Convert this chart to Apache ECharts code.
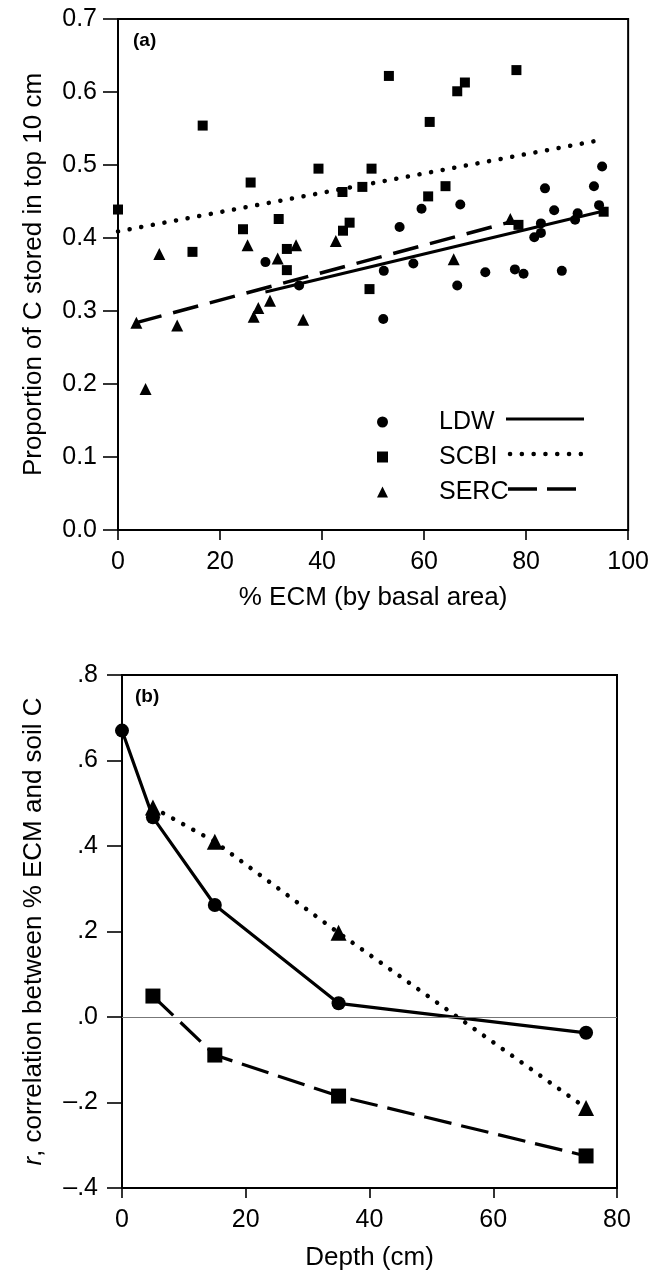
<!DOCTYPE html>
<html>
<head>
<meta charset="utf-8">
<script src="https://cdn.jsdelivr.net/npm/echarts@6/dist/echarts.min.js"></script>
<style>
html,body{margin:0;padding:0;background:#fff;}
#chart{width:652px;height:1276px;}
</style>
</head>
<body>
<div id="chart"></div>
<script>
// ---------- Panel (a) data: % ECM vs proportion of C in top 10 cm ----------
const ldwX  = [28.9, 35.5, 52.1, 52.0, 55.2, 57.9, 59.5, 66.5, 67.1, 72.0, 77.8, 79.5, 81.6, 82.9, 82.9, 83.7, 85.5, 87.0, 89.6, 90.1, 93.3, 94.3, 94.9];
const ldwY  = [0.367, 0.335, 0.355, 0.289, 0.415, 0.365, 0.440, 0.335, 0.446, 0.353, 0.357, 0.351, 0.401, 0.407, 0.420, 0.468, 0.438, 0.355, 0.425, 0.434, 0.471, 0.445, 0.498];
const scbiX = [0, 14.6, 16.6, 24.5, 26.0, 31.5, 33.1, 33.1, 39.3, 44.1, 44.0, 45.4, 47.9, 49.3, 49.7, 53.1, 60.8, 61.1, 64.2, 66.5, 68.0, 78.1, 78.5, 95.2];
const scbiY = [0.439, 0.381, 0.554, 0.412, 0.476, 0.426, 0.385, 0.356, 0.495, 0.410, 0.463, 0.421, 0.470, 0.330, 0.495, 0.622, 0.457, 0.559, 0.471, 0.601, 0.613, 0.630, 0.418, 0.436];
const sercX = [3.6, 5.4, 8.1, 11.6, 25.4, 26.6, 27.5, 29.8, 31.3, 34.9, 36.3, 42.7, 65.8, 76.9];
const sercY = [0.284, 0.193, 0.378, 0.280, 0.390, 0.292, 0.304, 0.314, 0.372, 0.390, 0.288, 0.396, 0.371, 0.426];
// regression line end points
const ldwFitX  = [28.9, 95.2];
const ldwFitY  = [0.326, 0.437];
const scbiFitX = [0, 95.2];
const scbiFitY = [0.409, 0.535];
const sercFitX = [3.6, 76.9];
const sercFitY = [0.284, 0.422];
const aXTicks = [0, 20, 40, 60, 80, 100];
const aYTicks = [0.0, 0.1, 0.2, 0.3, 0.4, 0.5, 0.6, 0.7];

// ---------- Panel (b) data: correlation vs depth ----------
const bLdwDepth  = [0, 5, 15, 35, 75];
const bLdwR      = [0.67, 0.467, 0.262, 0.032, -0.037];
const bTriDepth  = [5, 15, 35, 75];
const bTriR      = [0.49, 0.41, 0.197, -0.213];
const bSqDepth   = [5, 15, 35, 75];
const bSqR       = [0.049, -0.089, -0.185, -0.325];
const bXTicks = [0, 20, 40, 60, 80];
const bYTicks = [-0.4, -0.2, 0, 0.2, 0.4, 0.6, 0.8];

const zip = (xs, ys) => xs.map((x, i) => [x, ys[i]]);
const FONT = 'Liberation Sans, Arial, Helvetica, sans-serif';
const FS = 25;     // tick labels, legend
const FT = 26;     // axis titles
const BLACK = '#000';

const axisCommon = (tickLen) => ({
  axisLine: {show: true, onZero: false, lineStyle: {color: BLACK, width: 2}},
  axisTick: {show: true, inside: false, length: tickLen, lineStyle: {color: BLACK, width: 1.6}},
  splitLine: {show: false},
  nameTextStyle: {fontFamily: FONT, fontSize: FT, color: BLACK},
});

const chart = echarts.init(document.getElementById('chart'), null, {renderer: 'canvas'});

const option = {
  backgroundColor: '#fff',
  animation: false,
  title: [
    {text: '(a)', left: 128, top: 26, textStyle: {fontFamily: FONT, fontSize: 19, fontWeight: 'bold', color: BLACK}},
    {text: '(b)', left: 130, top: 682, textStyle: {fontFamily: FONT, fontSize: 19, fontWeight: 'bold', color: BLACK}}
  ],
  grid: [
    {left: 118, top: 19, width: 512, height: 511, show: true, borderColor: BLACK, borderWidth: 2, containLabel: false},
    {left: 122, top: 675, width: 495, height: 513, show: true, borderColor: BLACK, borderWidth: 2, containLabel: false}
  ],
  xAxis: [
    Object.assign(axisCommon(10), {
      gridIndex: 0, type: 'value', min: aXTicks[0], max: aXTicks[aXTicks.length - 1], interval: 20,
      axisLabel: {fontFamily: FONT, fontSize: FS, color: BLACK, margin: 20},
      name: '% ECM (by basal area)', nameLocation: 'middle', nameGap: 55
    }),
    Object.assign(axisCommon(10), {
      gridIndex: 1, type: 'value', min: bXTicks[0], max: bXTicks[bXTicks.length - 1], interval: 20,
      axisLabel: {fontFamily: FONT, fontSize: FS, color: BLACK, margin: 20},
      name: 'Depth (cm)', nameLocation: 'middle', nameGap: 57
    })
  ],
  yAxis: [
    Object.assign(axisCommon(15), {
      gridIndex: 0, type: 'value', min: aYTicks[0], max: aYTicks[aYTicks.length - 1], interval: 0.1,
      axisLabel: {fontFamily: FONT, fontSize: FS, color: BLACK, margin: 21, formatter: v => v.toFixed(1)},
      name: 'Proportion of C stored in top 10 cm', nameLocation: 'middle', nameGap: 71
    }),
    Object.assign(axisCommon(15), {
      gridIndex: 1, type: 'value', min: bYTicks[0], max: bYTicks[bYTicks.length - 1], interval: 0.2,
      axisLabel: {fontFamily: FONT, fontSize: FS, color: BLACK, margin: 24,
        formatter: v => (v < -1e-9 ? '\u2013' : '') + '.' + Math.round(Math.abs(v) * 10)},
      name: '{i|r}, correlation between % ECM and soil C', nameLocation: 'middle', nameGap: 75,
      nameTextStyle: {fontFamily: FONT, fontSize: FT, color: BLACK, rich: {i: {fontFamily: FONT, fontSize: FT, fontStyle: 'italic', color: BLACK}}}
    })
  ],
  legend: {
    data: [{name: 'LDW', icon: 'circle'}, {name: 'SCBI', icon: 'rect'}, {name: 'SERC', icon: 'triangle'}],
    orient: 'vertical', left: 372, top: 403, itemWidth: 11, itemHeight: 11, itemGap: 7,
    selectedMode: false,
    textStyle: {fontFamily: FONT, fontSize: FS, color: BLACK, lineHeight: 28, padding: [0, 0, 0, 46]}
  },
  graphic: [
    {type: 'line', shape: {x1: 506, y1: 419, x2: 584, y2: 419}, style: {stroke: BLACK, lineWidth: 3}},
    {type: 'line', shape: {x1: 510, y1: 454, x2: 584, y2: 454}, style: {stroke: BLACK, lineWidth: 4.5, lineCap: 'round', lineDash: [0.1, 11.7]}},
    {type: 'line', shape: {x1: 508, y1: 489, x2: 576, y2: 489}, style: {stroke: BLACK, lineWidth: 3.5, lineDash: [29, 10]}}
  ],
  series: [
    // panel (a) regression lines
    {name: 'LDW fit', type: 'line', xAxisIndex: 0, yAxisIndex: 0, data: zip(ldwFitX, ldwFitY), showSymbol: false, symbol: 'none',
      lineStyle: {color: BLACK, width: 3}, z: 2},
    {name: 'SCBI fit', type: 'line', xAxisIndex: 0, yAxisIndex: 0, data: zip(scbiFitX, scbiFitY), showSymbol: false, symbol: 'none',
      lineStyle: {color: BLACK, width: 4.5, type: [0.1, 11.7], cap: 'round'}, z: 2},
    {name: 'SERC fit', type: 'line', xAxisIndex: 0, yAxisIndex: 0, data: zip(sercFitX, sercFitY), showSymbol: false, symbol: 'none',
      lineStyle: {color: BLACK, width: 3.5, type: [26, 12]}, z: 2},
    // panel (a) scatter points
    {name: 'LDW', type: 'scatter', xAxisIndex: 0, yAxisIndex: 0, data: zip(ldwX, ldwY), symbol: 'circle', symbolSize: 10,
      itemStyle: {color: BLACK, opacity: 1}, z: 3},
    {name: 'SCBI', type: 'scatter', xAxisIndex: 0, yAxisIndex: 0, data: zip(scbiX, scbiY), symbol: 'rect', symbolSize: 10,
      itemStyle: {color: BLACK, opacity: 1}, z: 3},
    {name: 'SERC', type: 'scatter', xAxisIndex: 0, yAxisIndex: 0, data: zip(sercX, sercY), symbol: 'triangle', symbolSize: 12,
      itemStyle: {color: BLACK, opacity: 1}, z: 3},
    // panel (b)
    {name: 'b-square', type: 'line', xAxisIndex: 1, yAxisIndex: 1, data: zip(bSqDepth, bSqR), symbol: 'rect', symbolSize: 15,
      itemStyle: {color: BLACK}, lineStyle: {color: BLACK, width: 3.2, type: [28, 10]},
      markLine: {silent: true, symbol: 'none', label: {show: false}, lineStyle: {color: '#777', width: 1, type: 'solid'},
        data: [{yAxis: 0}]}, z: 3},
    {name: 'b-triangle', type: 'line', xAxisIndex: 1, yAxisIndex: 1, data: zip(bTriDepth, bTriR), symbol: 'triangle', symbolSize: 16,
      itemStyle: {color: BLACK}, lineStyle: {color: BLACK, width: 4.5, type: [0.1, 11.4], cap: 'round'}, z: 3},
    {name: 'b-circle', type: 'line', xAxisIndex: 1, yAxisIndex: 1, data: zip(bLdwDepth, bLdwR), symbol: 'circle', symbolSize: 14,
      itemStyle: {color: BLACK}, lineStyle: {color: BLACK, width: 3.2}, z: 4}
  ]
};
chart.setOption(option);
</script>
</body>
</html>
